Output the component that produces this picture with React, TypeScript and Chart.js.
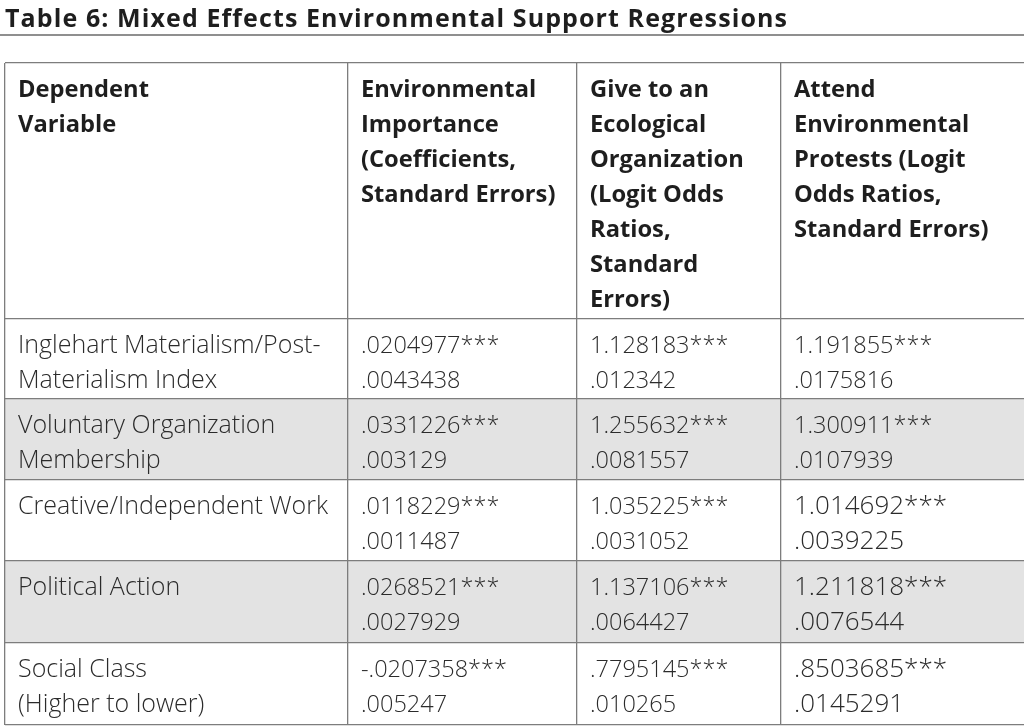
import React, { useEffect, useRef } from "react";
import { Chart, registerables } from "chart.js";

Chart.register(...registerables);

// ---------- data ----------
const tableTitle = "Table 6: Mixed Effects Environmental Support Regressions";

const headerLabels: string[][] = [
  ["Dependent", "Variable"],
  ["Environmental", "Importance", "(Coefficients,", "Standard Errors)"],
  ["Give to an", "Ecological", "Organization", "(Logit Odds", "Ratios,", "Standard", "Errors)"],
  ["Attend", "Environmental", "Protests (Logit", "Odds Ratios,", "Standard Errors)"],
];

const dependentVariables: string[][] = [
  ["Inglehart Materialism/Post-", "Materialism Index"],
  ["Voluntary Organization", "Membership"],
  ["Creative/Independent Work"],
  ["Political Action"],
  ["Social Class", "(Higher to lower)"],
];

const importanceCoef = [0.0204977, 0.0331226, 0.0118229, 0.0268521, -0.0207358];
const importanceSE = [0.0043438, 0.003129, 0.0011487, 0.0027929, 0.005247];
const giveOdds = [1.128183, 1.255632, 1.035225, 1.137106, 0.7795145];
const giveSE = [0.012342, 0.0081557, 0.0031052, 0.0064427, 0.010265];
const protestOdds = [1.191855, 1.300911, 1.014692, 1.211818, 0.8503685];
const protestSE = [0.0175816, 0.0107939, 0.0039225, 0.0076544, 0.0145291];
const significance = ["***", "***", "***", "***", "***"];

// ---------- layout (table units) ----------
const colEdges = [0, 343, 572, 776];
const tableWidth = 1019;
const rowEdges = [0, 256, 336, 417, 498, 580, 662];
const shadedRows = [1, 3];
const cellPadX = 13;
const firstBaseline = 33.5;
const lineStep = 35;
const largeCells = [
  [3, 2],
  [3, 3],
  [3, 4],
];

const fmt = (v: number) => String(v).replace(/^(-?)0\./, "$1.");

const FONT = "'Open Sans', 'Noto Sans', 'DejaVu Sans', sans-serif";

export default function App() {
  const ref = useRef<HTMLCanvasElement | null>(null);

  useEffect(() => {
    if (!ref.current) return;

    const bodyCells: string[][][] = dependentVariables.map((lbl, r) => [
      lbl,
      [fmt(importanceCoef[r]) + significance[r], fmt(importanceSE[r])],
      [fmt(giveOdds[r]) + significance[r], fmt(giveSE[r])],
      [fmt(protestOdds[r]) + significance[r], fmt(protestSE[r])],
    ]);

    const bandDatasets: any[] = [];
    shadedRows.forEach((r) => {
      const top = rowEdges[r + 1];
      const bottom = rowEdges[r + 2];
      bandDatasets.push({
        data: [
          { x: 0, y: top },
          { x: tableWidth, y: top },
        ],
        fill: "+1",
        backgroundColor: "#e3e3e3",
        borderWidth: 0,
        pointRadius: 0,
      });
      bandDatasets.push({
        data: [
          { x: 0, y: bottom },
          { x: tableWidth, y: bottom },
        ],
        fill: false,
        borderWidth: 0,
        pointRadius: 0,
      });
    });

    const textPlugin = {
      id: "tableText",
      afterDraw(chart: any) {
        const ctx = chart.ctx as any;
        const xs = chart.scales.x;
        const ys = chart.scales.y;
        ctx.save();
        // title
        ctx.fillStyle = "#1e1e1e";
        ctx.font = `bold 25px ${FONT}`;
        ctx.letterSpacing = "1.1px";
        ctx.textBaseline = "alphabetic";
        ctx.textAlign = "left";
        ctx.fillText(tableTitle, 5, 27);
        ctx.letterSpacing = "0px";
        ctx.strokeStyle = "#6a6a6a";
        ctx.lineWidth = 1.5;
        ctx.beginPath();
        ctx.moveTo(0, 35);
        ctx.lineTo(chart.width, 35);
        ctx.stroke();

        // header
        ctx.font = `bold 23.7px ${FONT}`;
        ctx.fillStyle = "#1e1e1e";
        headerLabels.forEach((lines, c) => {
          const x = xs.getPixelForValue(colEdges[c]) + cellPadX;
          lines.forEach((t, i) => {
            const y = ys.getPixelForValue(rowEdges[0] + firstBaseline + i * lineStep);
            ctx.fillText(t, x, y);
          });
        });

        // body
        ctx.fillStyle = "#2b2b2b";
        bodyCells.forEach((row, r) => {
          row.forEach((lines, c) => {
            const big = largeCells.some(([cc, rr]) => cc === c && rr === r);
            const size = c === 0 ? 25 : big ? 26 : 23.5;
            ctx.font = `300 ${size}px ${FONT}`;
            const x = xs.getPixelForValue(colEdges[c]) + cellPadX;
            lines.forEach((t, i) => {
              const y = ys.getPixelForValue(rowEdges[r + 1] + firstBaseline + i * lineStep);
              ctx.fillText(t, x, y);
            });
          });
        });
        ctx.restore();
      },
    };

    const gridStyle = { color: "#7d7d7d", lineWidth: 1.3, drawTicks: false };

    const chart = new Chart(ref.current, {
      type: "line",
      data: { datasets: bandDatasets },
      plugins: [textPlugin],
      options: {
        responsive: false,
        animation: false,
        events: [],
        layout: { padding: { left: 5, top: 63, right: 0, bottom: 3 } },
        plugins: {
          legend: { display: false },
          tooltip: { enabled: false },
          title: { display: false },
          filler: { drawTime: "beforeDraw" } as any,
        },
        scales: {
          x: {
            type: "linear",
            min: 0,
            max: tableWidth,
            afterBuildTicks: (s: any) => {
              s.ticks = colEdges.map((v) => ({ value: v }));
            },
            ticks: { display: false },
            grid: gridStyle,
            border: { display: false },
          },
          y: {
            type: "linear",
            reverse: true,
            min: 0,
            max: rowEdges[rowEdges.length - 1],
            afterBuildTicks: (s: any) => {
              s.ticks = rowEdges.map((v) => ({ value: v }));
            },
            ticks: { display: false },
            grid: gridStyle,
            border: { display: false },
          },
        },
      } as any,
    });
    return () => chart.destroy();
  }, []);

  return (
    <div style={{ position: "fixed", left: 0, top: 0, width: 1024, height: 728, background: "#fff" }}>
      <canvas ref={ref} width={1024} height={728} style={{ display: "block" }} />
    </div>
  );
}
